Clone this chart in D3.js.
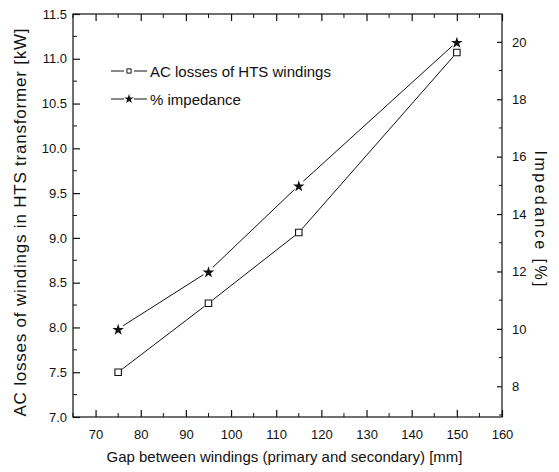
<!DOCTYPE html>
<html>
<head>
<meta charset="utf-8">
<script src="https://cdn.jsdelivr.net/npm/d3@7"></script>
<style>
  body { margin: 0; background: #fff; }
  svg text { font-family: "Liberation Sans Narrow", "Liberation Sans", Arial, sans-serif; fill: #111; }
</style>
</head>
<body>
<svg id="chart" width="559" height="472"></svg>
<script>
// data
const gaps = [75, 95, 115, 150];
const acLosses = [7.5, 8.27, 9.06, 11.07];      // kW, left axis
const impedance = [10, 12, 15, 20];             // %, right axis

const xTicks = [70, 80, 90, 100, 110, 120, 130, 140, 150, 160];
const yLeftTicks = [7.0, 7.5, 8.0, 8.5, 9.0, 9.5, 10.0, 10.5, 11.0, 11.5];
const yRightTicks = [8, 10, 12, 14, 16, 18, 20];

const legendLabels = ["AC losses of HTS windings", "% impedance"];

const svg = d3.select("#chart");
const plotLeft = 73, plotRight = 502, plotTop = 14, plotBottom = 417;

let x = d3.scaleLinear().domain([65, 160]).range([plotLeft, plotRight]);
let yL = d3.scaleLinear().domain([7.0, 11.5]).range([plotBottom, plotTop]);
let yR = d3.scaleLinear().domain([6.93, 20.97]).range([plotBottom, plotTop]);

// frame
svg.append("rect")
    .attr("x", plotLeft).attr("y", plotTop)
    .attr("width", plotRight - plotLeft).attr("height", plotBottom - plotTop)
    .attr("fill", "none").attr("stroke", "#111").attr("stroke-width", 1.2);

// axes, ticks pointing inward
let bottomAxis = d3.axisBottom(x).tickValues(xTicks).tickSize(-7).tickPadding(13)
    .tickFormat(d3.format("d"));
let topAxis = d3.axisTop(x).tickValues(xTicks).tickSize(-7).tickFormat("");
let leftAxis = d3.axisLeft(yL).tickValues(yLeftTicks).tickSize(-7).tickPadding(6)
    .tickFormat(d3.format(".1f"));
let rightAxis = d3.axisRight(yR).tickValues(yRightTicks).tickSize(-5).tickPadding(10)
    .tickFormat(d3.format("d"));

function styleAxis(g)
{
  g.select(".domain").remove();
  g.selectAll(".tick line").attr("stroke", "#111").attr("stroke-width", 1.2);
  g.selectAll(".tick text").attr("font-size", 13).attr("fill", "#111")
      .style("font-family", "'Liberation Sans Narrow', 'Liberation Sans', sans-serif");
}

svg.append("g").attr("transform", `translate(0,${plotBottom})`).call(bottomAxis).call(styleAxis);
svg.append("g").attr("transform", `translate(0,${plotTop})`).call(topAxis).call(styleAxis);
svg.append("g").attr("transform", `translate(${plotLeft},0)`).call(leftAxis).call(styleAxis);
svg.append("g").attr("transform", `translate(${plotRight},0)`).call(rightAxis).call(styleAxis);

// minor ticks
let minor = svg.append("g").attr("stroke", "#111").attr("stroke-width", 1);
d3.range(65, 161, 10).forEach(v => {
  minor.append("line").attr("x1", x(v)).attr("x2", x(v)).attr("y1", plotBottom).attr("y2", plotBottom - 4);
  minor.append("line").attr("x1", x(v)).attr("x2", x(v)).attr("y1", plotTop).attr("y2", plotTop + 4);
});
d3.range(7.25, 11.5, 0.5).forEach(v => {
  minor.append("line").attr("x1", plotLeft).attr("x2", plotLeft + 4).attr("y1", yL(v)).attr("y2", yL(v));
});
d3.range(7, 21, 2).forEach(v => {
  minor.append("line").attr("x1", plotRight).attr("x2", plotRight - 3).attr("y1", yR(v)).attr("y2", yR(v));
});

// axis titles
svg.append("text")
    .attr("x", (107 + 462) / 2).attr("y", 462)
    .attr("text-anchor", "middle").attr("font-size", 15)
    .text("Gap between windings (primary and secondary) [mm]");
svg.append("text")
    .attr("transform", `translate(26,${(plotTop + plotBottom) / 2 + 7}) rotate(-90)`)
    .attr("text-anchor", "middle").attr("font-size", 17)
    .attr("textLength", 388).attr("lengthAdjust", "spacing")
    .text("AC losses of windings in HTS transformer [kW]");
svg.append("text")
    .attr("transform", `translate(535,${(plotTop + plotBottom) / 2 + 3}) rotate(90)`)
    .attr("text-anchor", "middle").attr("font-size", 16)
    .attr("textLength", 136).attr("lengthAdjust", "spacing")
    .text("Impedance [%]");

// lines, with a small gap around each marker
function gappedSegments(xs, ys, gap)
{
  let segs = [];
  for (let i = 0; i < xs.length - 1; i++)
  {
    let dx = xs[i + 1] - xs[i], dy = ys[i + 1] - ys[i];
    let len = Math.hypot(dx, dy);
    let ux = dx / len, uy = dy / len;
    segs.push([xs[i] + ux * gap, ys[i] + uy * gap, xs[i + 1] - ux * gap, ys[i + 1] - uy * gap]);
  }
  return segs;
}

let acX = gaps.map(x), acY = acLosses.map(yL);
let imX = gaps.map(x), imY = impedance.map(yR);

svg.append("g").selectAll("line")
    .data(gappedSegments(acX, acY, 5).concat(gappedSegments(imX, imY, 6)))
    .join("line")
    .attr("x1", d => d[0]).attr("y1", d => d[1])
    .attr("x2", d => d[2]).attr("y2", d => d[3])
    .attr("stroke", "#111").attr("stroke-width", 1);

let squareSym = d3.symbol().type(d3.symbolSquare).size(42);
let starSym = d3.symbol().type(d3.symbolStar).size(42);

svg.append("g").selectAll("path")
    .data(gaps.map((g, i) => [x(g), yL(acLosses[i])]))
    .join("path")
    .attr("d", squareSym)
    .attr("transform", d => `translate(${d[0]},${d[1]})`)
    .attr("fill", "#fff").attr("stroke", "#111").attr("stroke-width", 1.1);

svg.append("g").selectAll("path")
    .data(gaps.map((g, i) => [x(g), yR(impedance[i])]))
    .join("path")
    .attr("d", starSym)
    .attr("transform", d => `translate(${d[0]},${d[1] + 1})`)
    .attr("fill", "#111");

// legend
let legend = svg.append("g");
let legendY = [71, 99];
legendLabels.forEach((label, i) => {
  let row = legend.append("g").attr("transform", `translate(0,${legendY[i]})`);
  row.append("line").attr("x1", 111).attr("x2", 124).attr("y1", 0).attr("y2", 0)
      .attr("stroke", "#111");
  row.append("line").attr("x1", 134).attr("x2", 147).attr("y1", 0).attr("y2", 0)
      .attr("stroke", "#111");
  row.append("path")
      .attr("d", i === 0 ? d3.symbol().type(d3.symbolSquare).size(18)()
                         : d3.symbol().type(d3.symbolStar).size(28)())
      .attr("transform", "translate(129,0)")
      .attr("fill", i === 0 ? "#fff" : "#111")
      .attr("stroke", i === 0 ? "#111" : "none");
  row.append("text").attr("x", 150).attr("y", 5.5).attr("font-size", 15).text(label);
});
</script>
</body>
</html>
